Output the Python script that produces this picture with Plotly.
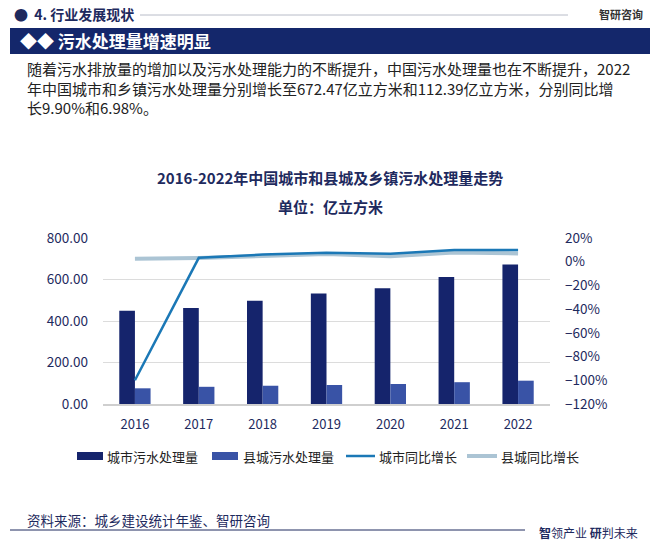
import plotly.graph_objects as go

years = ["2016", "2017", "2018", "2019", "2020", "2021", "2022"]
city_volume = [448.8, 462.6, 497.6, 532.3, 557.3, 611.9, 672.47]
county_volume = [75.6, 82.9, 88.0, 91.6, 96.4, 105.06, 112.39]
city_growth = [-100.0, 3.3, 6.0, 7.5, 6.8, 9.8, 9.9]
county_growth = [2.5, 3.2, 4.8, 6.5, 4.6, 7.8, 6.98]
series_names = ["城市污水处理量", "县城污水处理量", "城市同比增长", "县城同比增长"]

W, H = 660, 544
L, R, T, B = 103, 550, 238, 404
FONT = "Noto Sans CJK SC"
NAVY = "#1e2a5e"
C_CITY_BAR = "#15246c"
C_COUNTY_BAR = "#3953a6"
C_CITY_LINE = "#1b78b6"
C_COUNTY_LINE = "#abc4d4"


def px(x):
    return (x - L) / (R - L)


def py(y):
    return (B - y) / (B - T)


fig = go.Figure()
fig.add_trace(go.Bar(x=years, y=city_volume, name=series_names[0],
                     marker=dict(color=C_CITY_BAR, line=dict(width=0))))
fig.add_trace(go.Bar(x=years, y=county_volume, name=series_names[1],
                     marker=dict(color=C_COUNTY_BAR, line=dict(width=0))))
fig.add_trace(go.Scatter(x=years, y=county_growth, name=series_names[3], yaxis="y2",
                         mode="lines", line=dict(color=C_COUNTY_LINE, width=4)))
fig.add_trace(go.Scatter(x=years, y=city_growth, name=series_names[2], yaxis="y2",
                         mode="lines", line=dict(color=C_CITY_LINE, width=2.5)))

shapes = [
    # header line
    dict(type="line", x0=px(140), x1=px(568), y0=py(15), y1=py(15),
         line=dict(color="#b8bcc8", width=1)),
    # navy banner
    dict(type="rect", x0=px(10), x1=px(650), y0=py(28), y1=py(54),
         fillcolor="#14276b", line=dict(width=0)),
    # bottom line
    dict(type="line", x0=px(10), x1=px(525), y0=py(530), y1=py(530),
         line=dict(color="#1e2a5e", width=1)),
]

LEG_Y = 456
# legend swatches (manual legend)
shapes += [
    dict(type="rect", x0=px(77), x1=px(103), y0=py(LEG_Y + 4), y1=py(LEG_Y - 4),
         fillcolor=C_CITY_BAR, line=dict(width=0)),
    dict(type="rect", x0=px(212), x1=px(238), y0=py(LEG_Y + 4), y1=py(LEG_Y - 4),
         fillcolor=C_COUNTY_BAR, line=dict(width=0)),
    dict(type="line", x0=px(346), x1=px(375), y0=py(LEG_Y), y1=py(LEG_Y),
         line=dict(color=C_CITY_LINE, width=2.5)),
    dict(type="line", x0=px(467), x1=px(497), y0=py(LEG_Y), y1=py(LEG_Y),
         line=dict(color=C_COUNTY_LINE, width=4)),
]
for s in shapes:
    s["xref"] = "paper"
    s["yref"] = "paper"

annotations = [
    dict(text="●  <b>4. 行业发展现状</b>", x=px(12), y=py(14), xanchor="left",
         font=dict(family=FONT, size=14, color=NAVY)),
    dict(text="<b>智研咨询</b>", x=px(645), y=py(14), xanchor="right",
         font=dict(family=FONT, size=11, color="#333333")),
    dict(text="◆◆ <b>污水处理量增速明显</b>", x=px(18), y=py(41), xanchor="left",
         font=dict(family=FONT, size=17, color="white")),
    dict(text="随着污水排放量的增加以及污水处理能力的不断提升，中国污水处理量也在不断提升，2022<br>"
              "年中国城市和乡镇污水处理量分别增长至672.47亿立方米和112.39亿立方米，分别同比增<br>"
              "长9.90%和6.98%。",
         x=px(25), y=py(88), xanchor="left", align="left",
         font=dict(family=FONT, size=15, color="#222222")),
    dict(text="<b>2016-2022年中国城市和县城及乡镇污水处理量走势</b>", x=px(330), y=py(177),
         xanchor="center", font=dict(family=FONT, size=15, color=NAVY)),
    dict(text="<b>单位：亿立方米</b>", x=px(330), y=py(207),
         xanchor="center", font=dict(family=FONT, size=15, color=NAVY)),
    dict(text="资料来源：城乡建设统计年鉴、智研咨询", x=px(25), y=py(520),
         xanchor="left", font=dict(family=FONT, size=13.5, color=NAVY)),
    dict(text="<b>智</b>领产业 <b>研</b>判未来", x=px(640), y=py(532),
         xanchor="right", font=dict(family=FONT, size=12, color=NAVY)),
    # manual legend labels
    dict(text=series_names[0], x=px(105), y=py(LEG_Y), xanchor="left",
         font=dict(family=FONT, size=13, color="#222222")),
    dict(text=series_names[1], x=px(241), y=py(LEG_Y), xanchor="left",
         font=dict(family=FONT, size=13, color="#222222")),
    dict(text=series_names[2], x=px(377), y=py(LEG_Y), xanchor="left",
         font=dict(family=FONT, size=13, color="#222222")),
    dict(text=series_names[3], x=px(499), y=py(LEG_Y), xanchor="left",
         font=dict(family=FONT, size=13, color="#222222")),
]
for a in annotations:
    a["xref"] = "paper"
    a["yref"] = "paper"
    a["showarrow"] = False
    a["yanchor"] = "middle"

fig.update_layout(
    width=W, height=H,
    margin=dict(l=L, r=W - R, t=T, b=H - B, pad=0),
    paper_bgcolor="white", plot_bgcolor="white",
    barmode="group", bargap=0.51, bargroupgap=0,
    showlegend=False,
    font=dict(family=FONT, color=NAVY, size=13),
    xaxis=dict(type="category", showgrid=False, showline=True, linecolor="#cfcfcf", linewidth=1.5,
               ticks="", tickfont=dict(size=13, color=NAVY), ticklabelstandoff=8),
    yaxis=dict(range=[0, 800], dtick=200, tickformat=".2f", showgrid=True, gridcolor="#dcdcdc",
               zeroline=False, ticks="", tickfont=dict(size=13.5, color=NAVY), ticklabelstandoff=14),
    yaxis2=dict(range=[-120, 20], dtick=20, ticksuffix="%", overlaying="y", side="right",
                showgrid=False, zeroline=False, ticks="", tickfont=dict(size=13.5, color=NAVY),
                ticklabelstandoff=14),
    shapes=shapes,
    annotations=annotations,
)

fig.write_html("out.html", config={"displayModeBar": False},
               post_script="document.body.style.margin='0';")
